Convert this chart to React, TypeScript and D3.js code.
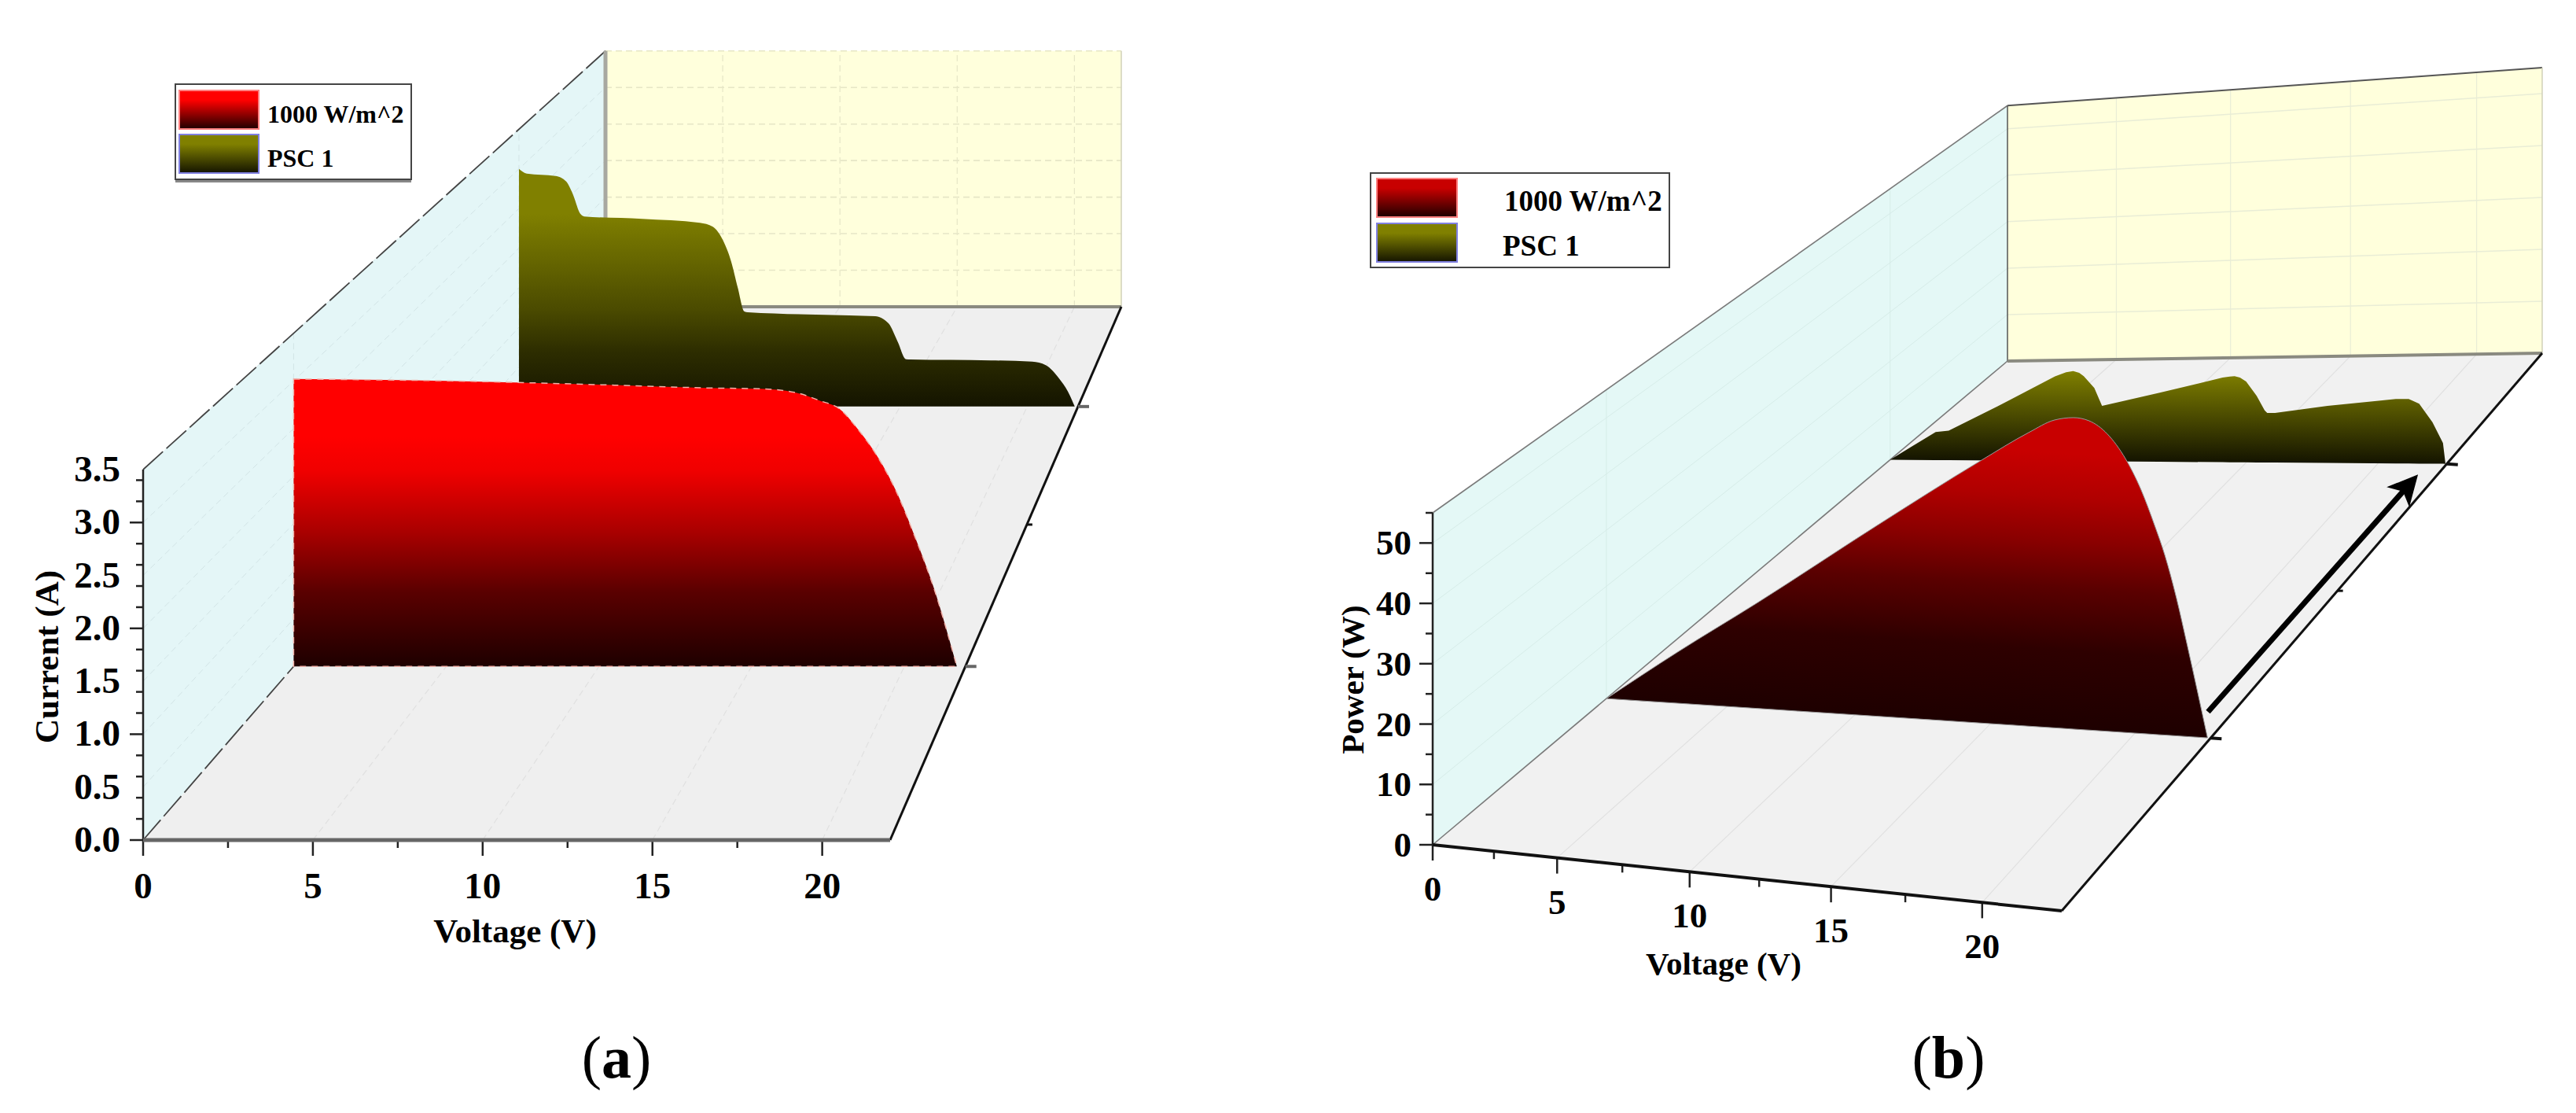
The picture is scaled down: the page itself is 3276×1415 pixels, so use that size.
import React, { useEffect, useRef } from 'react';
import * as d3 from 'd3';

// panel (a) current vs voltage
const iSeriesV1000 = [0, 5, 10, 13.57, 15.28, 16.4, 17.25, 17.86, 18.46, 19.15, 19.75, 20.35, 20.95, 21.72];
const iSeriesA1000 = [3.02, 3.0, 2.96, 2.926, 2.917, 2.88, 2.79, 2.71, 2.5, 2.19, 1.83, 1.36, 0.84, 0];
const iSeriesVPsc = [0, 0.31, 1.44, 1.86, 2.11, 2.42, 2.57, 4.85, 7.12, 7.63, 8.04, 8.35, 8.61, 8.87, 9.0, 13.0, 14.02, 14.54, 14.9, 15.24, 15.4, 18.57, 20.2, 20.73, 21.25, 21.6, 21.87];
const iSeriesAPsc = [3.0, 2.94, 2.91, 2.84, 2.69, 2.43, 2.4, 2.37, 2.32, 2.27, 2.09, 1.83, 1.5, 1.2, 1.19, 1.15, 1.14, 1.05, 0.82, 0.596, 0.594, 0.583, 0.566, 0.523, 0.357, 0.19, 0];

// panel (b) power vs voltage
const pSeriesV1000 = [0, 3.0, 6.18, 10.83, 14.68, 16.35, 17.26, 17.91, 18.45, 19.07, 19.68, 20.21, 20.66, 21.0, 21.38, 21.74, 22.4];
const pSeriesW1000 = [0, 9, 18.06, 31.87, 42.94, 47.45, 49.48, 49.85, 49.33, 47.24, 43.35, 38.4, 32.86, 28.2, 21.6, 14.2, 0];
const pSeriesVPsc = [0, 0.93, 2.05, 2.63, 4.99, 7.23, 7.7, 8.0, 8.25, 8.44, 8.88, 9.2, 11.56, 14.07, 14.35, 14.54, 14.75, 14.99, 15.4, 15.71, 15.81, 16.11, 18.11, 20.65, 21.12, 21.5, 21.98, 22.36, 22.45];
const pSeriesWPsc = [0, 2.6, 5.64, 5.94, 11.25, 16.57, 17.35, 17.55, 17.2, 16.51, 14.2, 10.74, 13.19, 15.97, 16.15, 16.2, 15.95, 15.19, 12.47, 9.76, 9.27, 9.25, 10.54, 11.73, 11.73, 10.85, 7.5, 3.75, 0];

const legendLabels = ['1000 W/m^2', 'PSC 1'];
const voltageTicks = [0, 5, 10, 15, 20];
const currentTicks = [0, 0.5, 1, 1.5, 2, 2.5, 3, 3.5];
const powerTicks = [0, 10, 20, 30, 40, 50];
const depthPlanes = [0.25, 0.75];

const redStopsA = [[0, '#1e0000'], [0.26, '#5a0000'], [0.47, '#aa0000'], [0.68, '#f00000'], [0.8, '#ff0000'], [1, '#ff0000']];
const oliveStopsA = [[0, '#141400'], [0.23, '#2d2d00'], [0.41, '#4b4b00'], [0.675, '#6e6e00'], [0.81, '#808000'], [1, '#808000']];
const redStopsB = [[0, '#1e0000'], [0.25, '#2e0000'], [0.45, '#5a0000'], [0.6, '#8a0000'], [0.74, '#b00000'], [0.88, '#c80000'], [1, '#c80000']];
const oliveStopsB = [[0, '#141400'], [0.5, '#4a4a00'], [1, '#808000']];

const serif = '"Liberation Serif", serif';

// projective map of the unit floor square onto its picture quad, verticals stay vertical
function makeCamera(quad, frontHeight) {
  const [[x0, y0], [x1, y1], [x2, y2], [x3, y3]] = quad;
  const dx1 = x1 - x2, dx2 = x3 - x2, sx = x0 - x1 + x2 - x3;
  const dy1 = y1 - y2, dy2 = y3 - y2, sy = y0 - y1 + y2 - y3;
  const den = dx1 * dy2 - dx2 * dy1;
  const g = (sx * dy2 - dx2 * sy) / den;
  const h = (dx1 * sy - sx * dy1) / den;
  const a = x1 - x0 + g * x1, b = x3 - x0 + h * x3;
  const d = y1 - y0 + g * y1, e = y3 - y0 + h * y3;
  return (u, v, frac = 0) => {
    const w = g * u + h * v + 1;
    return [(a * u + b * v + x0) / w, (d * u + e * v + y0) / w - (frontHeight * frac) / w];
  };
}

function drawPanel(svg, cfg) {
  const root = svg.append('g');
  const defs = svg.select('defs');
  const uScale = d3.scaleLinear().domain([0, cfg.xMax]).range([0, 1]);
  const hScale = d3.scaleLinear().domain([0, cfg.yMax]).range([0, 1]);
  const cam = makeCamera(cfg.quad, cfg.frontHeight);
  const poly = (pts, fill) => root.append('polygon').attr('points', pts.map(p => p.join(',')).join(' ')).attr('fill', fill);
  const seg = (p, q, stroke, width, dash) => root.append('line')
    .attr('x1', p[0]).attr('y1', p[1]).attr('x2', q[0]).attr('y2', q[1])
    .attr('stroke', stroke).attr('stroke-width', width).attr('stroke-dasharray', dash || null);

  // walls and floor
  poly([cam(0, 0), cam(0, 0, 1), cam(0, 1, 1), cam(0, 1)], cfg.leftFill);
  poly([cam(0, 0), cam(1, 0), cam(1, 1), cam(0, 1)], cfg.floorFill);
  poly([cam(0, 1), cam(1, 1), cam(1, 1, 1), cam(0, 1, 1)], '#ffffdc');

  // grid
  voltageTicks.slice(1).forEach(t => {
    const u = uScale(t);
    seg(cam(u, 0), cam(u, 1), '#e0e0e0', 1.2, cfg.gridDash);
    seg(cam(u, 1), cam(u, 1, 1), cfg.backGrid, 1.2, cfg.gridDash);
  });
  cfg.yTicks.slice(1).forEach(t => {
    const f = hScale(t);
    seg(cam(0, 0, f), cam(0, 1, f), cfg.leftGrid, 1, cfg.gridDash);
    seg(cam(0, 1, f), cam(1, 1, f), cfg.backGrid, cfg.backGridWidth, cfg.gridDash);
  });
  depthPlanes.forEach(v => {
    seg(cam(0, v), cam(0, v, 1), cfg.leftGrid, 1, cfg.gridDash);
  });

  // wall edges
  seg(cam(0, 0, 1), cam(0, 1, 1), cfg.edge, cfg.edgeWidth, cfg.edgeDash);
  seg(cam(0, 0), cam(0, 1), cfg.edge, cfg.edgeWidth, cfg.edgeDash);
  seg(cam(0, 1), cam(0, 1, 1), cfg.backEdge, cfg.backEdgeWidth);
  seg(cam(0, 1, 1), cam(1, 1, 1), cfg.backEdge, cfg.topWidth);
  seg(cam(1, 1), cam(1, 1, 1), '#d0d0b8', 1.5);
  seg(cam(0, 1), cam(1, 1), '#8a8a80', 4);
  seg(cam(1, 0), cam(1, 1), '#111', 3);

  // series, far one first
  cfg.series.forEach((s, i) => {
    const v = s.depth;
    const pts = s.xs.map((x, j) => ({ base: cam(uScale(x), v), top: cam(uScale(x), v, hScale(s.ys[j])) }));
    const area = d3.area().x(d => d.top[0]).y0(d => d.base[1]).y1(d => d.top[1]).curve(s.curve);
    const left = cam(0, v), right = cam(1, v);
    const peak = d3.max(pts, d => d.base[1] - d.top[1]);
    const slope = (right[1] - left[1]) / (right[0] - left[0]);
    const mid = [(left[0] + right[0]) / 2, (left[1] + right[1]) / 2];
    const id = `${cfg.id}-s${i}`;
    const grad = defs.append('linearGradient').attr('id', id).attr('gradientUnits', 'userSpaceOnUse')
      .attr('x1', mid[0]).attr('y1', mid[1]).attr('x2', mid[0] + slope * peak).attr('y2', mid[1] - peak);
    s.stops.forEach(st => grad.append('stop').attr('offset', st[0]).attr('stop-color', st[1]));
    root.append('path').attr('d', area(pts)).attr('fill', `url(#${id})`)
      .attr('stroke', s.stroke || 'none').attr('stroke-width', s.strokeWidth || 0).attr('stroke-dasharray', s.strokeDash || null);
  });

  // depth ticks along the right floor edge
  depthPlanes.forEach(v => {
    const p = cam(1, v);
    seg(p, [p[0] + 14, p[1] + cfg.tickDrift], cfg.axisColor, 4);
  });
  const m = cam(1, 0.5);
  seg(m, [m[0] + 7, m[1]], '#111', 3);

  // y axis
  seg(cam(0, 0), cam(0, 0, 1), '#222', 2.5);
  hScale.ticks(cfg.yMax / cfg.yMinor).forEach(t => {
    const p = cam(0, 0, hScale(t));
    const major = cfg.yTicks.includes(t);
    seg(p, [p[0] - (major ? 17 : 9), p[1]], '#222', 2.5);
  });
  cfg.yTicks.forEach(t => {
    const p = cam(0, 0, hScale(t));
    root.append('text').attr('x', p[0] - cfg.yLabelGap).attr('y', p[1] + cfg.yLabelDy).attr('text-anchor', 'end')
      .attr('font-family', serif).attr('font-weight', 'bold').attr('font-size', cfg.tickSize).text(cfg.yFormat(t));
  });

  // x axis
  d3.range(0, cfg.xMax, 2.5).forEach(t => {
    const p = cam(uScale(t), 0);
    const major = voltageTicks.includes(t);
    seg(p, [p[0], p[1] + (major ? 20 : 10)], '#222', 2.5);
  });
  seg(cam(0, 0), cam(1, 0), cfg.axisColor, cfg.axisWidth);
  voltageTicks.forEach(t => {
    const p = cam(uScale(t), 0);
    root.append('text').attr('x', p[0]).attr('y', p[1] + cfg.xLabelDy).attr('text-anchor', 'middle')
      .attr('font-family', serif).attr('font-weight', 'bold').attr('font-size', cfg.tickSize).text(t);
  });

  // axis titles
  root.append('text').attr('x', cfg.xTitle[0]).attr('y', cfg.xTitle[1]).attr('text-anchor', 'middle')
    .attr('font-family', serif).attr('font-weight', 'bold').attr('font-size', cfg.titleSize).text('Voltage (V)');
  root.append('text').attr('transform', `translate(${cfg.yTitle[0]},${cfg.yTitle[1]}) rotate(-90)`).attr('text-anchor', 'middle')
    .attr('font-family', serif).attr('font-weight', 'bold').attr('font-size', cfg.titleSize).text(cfg.yLabel);

  // legend
  const lg = cfg.legend;
  if (lg.shadow) root.append('rect').attr('x', lg.x).attr('y', lg.y + 4).attr('width', lg.w).attr('height', lg.h).attr('fill', '#888');
  root.append('rect').attr('x', lg.x).attr('y', lg.y).attr('width', lg.w).attr('height', lg.h)
    .attr('fill', '#fff').attr('stroke', '#444').attr('stroke-width', 2);
  legendLabels.forEach((label, i) => {
    const y = lg.swatchY[i];
    const id = `${cfg.id}-lg${i}`;
    const grad = defs.append('linearGradient').attr('id', id).attr('x1', 0).attr('y1', 1).attr('x2', 0).attr('y2', 0);
    grad.append('stop').attr('offset', 0).attr('stop-color', i === 0 ? '#1e0000' : '#141400');
    grad.append('stop').attr('offset', 0.75).attr('stop-color', i === 0 ? lg.red : '#808000');
    root.append('rect').attr('x', lg.swatchX).attr('y', y).attr('width', lg.swatchW).attr('height', lg.swatchH)
      .attr('fill', `url(#${id})`).attr('stroke', i === 0 ? '#ff8080' : '#8080e0').attr('stroke-width', 2);
    root.append('text').attr('x', lg.textX[i]).attr('y', lg.textY[i]).attr('font-family', serif)
      .attr('font-weight', 'bold').attr('font-size', lg.size).text(label);
  });

  // caption
  const cap = root.append('text').attr('x', cfg.caption[0]).attr('y', cfg.caption[1]).attr('text-anchor', 'middle')
    .attr('font-family', serif).attr('font-size', 76);
  cap.append('tspan').text('(');
  cap.append('tspan').attr('font-weight', 'bold').text(cfg.id);
  cap.append('tspan').text(')');
}

const App = () => {
  const ref = useRef<SVGSVGElement>(null);
  useEffect(() => {
    const svg = d3.select(ref.current);
    svg.selectAll('*').remove();
    svg.append('defs');

    drawPanel(svg, {
      id: 'a',
      quad: [[182, 1068], [1132, 1068], [1426, 390], [770, 390]],
      frontHeight: 471, xMax: 22, yMax: 3.5, yMinor: 0.25, yTicks: currentTicks,
      yFormat: d3.format('.1f'), yLabel: 'Current (A)', tickSize: 47, titleSize: 43,
      yLabelGap: 29, yLabelDy: 15, xLabelDy: 74, tickDrift: 0,
      xTitle: [655, 1198], yTitle: [74, 835],
      leftFill: '#e4f6f7', floorFill: '#efefef',
      leftGrid: '#d2e4e6', backGrid: '#e6e6c6', backGridWidth: 1.6, gridDash: '8 5',
      edge: '#444', edgeWidth: 1.8, edgeDash: '34 6', backEdge: '#a8a8a0', backEdgeWidth: 5, topWidth: 0,
      axisColor: '#666', axisWidth: 5,
      series: [
        { depth: depthPlanes[1], xs: iSeriesVPsc, ys: iSeriesAPsc, stops: oliveStopsA, curve: d3.curveMonotoneX },
        { depth: depthPlanes[0], xs: iSeriesV1000, ys: iSeriesA1000, stops: redStopsA, curve: d3.curveMonotoneX, stroke: '#f0b0a8', strokeWidth: 1.5, strokeDash: '8 7' },
      ],
      legend: {
        x: 223, y: 107, w: 300, h: 121, shadow: true, swatchX: 228, swatchY: [115, 171], swatchW: 101, swatchH: 49,
        textX: [340, 340], textY: [156, 212], size: 32, red: '#ff0000',
      },
      caption: [784, 1370],
    });

    drawPanel(svg, {
      id: 'b',
      quad: [[1822, 1074], [2622, 1158], [3233, 449], [2553, 459]],
      frontHeight: 422, xMax: 22.5, yMax: 55, yMinor: 5, yTicks: powerTicks,
      yFormat: d3.format('d'), yLabel: 'Power (W)', tickSize: 45, titleSize: 41,
      yLabelGap: 27, yLabelDy: 15, xLabelDy: 71, tickDrift: 1,
      xTitle: [2192, 1239], yTitle: [1734, 864],
      leftFill: '#e4f8f6', floorFill: '#f1f1f1',
      leftGrid: '#d6ece8', backGrid: '#e9edd6', backGridWidth: 1.5, gridDash: null,
      edge: '#7a7a7a', edgeWidth: 1.6, edgeDash: null, backEdge: '#555', backEdgeWidth: 1.5, topWidth: 2,
      axisColor: '#111', axisWidth: 4,
      series: [
        { depth: depthPlanes[1], xs: pSeriesVPsc, ys: pSeriesWPsc, stops: oliveStopsB, curve: d3.curveLinear },
        { depth: depthPlanes[0], xs: pSeriesV1000, ys: pSeriesW1000, stops: redStopsB, curve: d3.curveMonotoneX, stroke: '#999', strokeWidth: 1 },
      ],
      legend: {
        x: 1743, y: 220, w: 380, h: 120, shadow: false, swatchX: 1751, swatchY: [227, 284], swatchW: 102, swatchH: 49,
        textX: [1913, 1911], textY: [268, 325], size: 37, red: '#c80000',
      },
      caption: [2478, 1370],
    });

    // irradiance arrow in panel (b)
    const defs = svg.select('defs');
    defs.append('marker').attr('id', 'arrowHead').attr('viewBox', '0 0 10 10').attr('refX', 8).attr('refY', 5)
      .attr('markerWidth', 6.5).attr('markerHeight', 5.5).attr('orient', 'auto')
      .append('path').attr('d', 'M0,0L10,5L0,10L2.5,5Z').attr('fill', '#000');
    svg.append('line').attr('x1', 2808).attr('y1', 905).attr('x2', 3070).attr('y2', 609)
      .attr('stroke', '#000').attr('stroke-width', 7).attr('marker-end', 'url(#arrowHead)');
  }, []);

  return <svg ref={ref} width={3276} height={1415} style={{ position: 'absolute', left: 0, top: 0, background: '#fff' }} />;
};

export default App;
